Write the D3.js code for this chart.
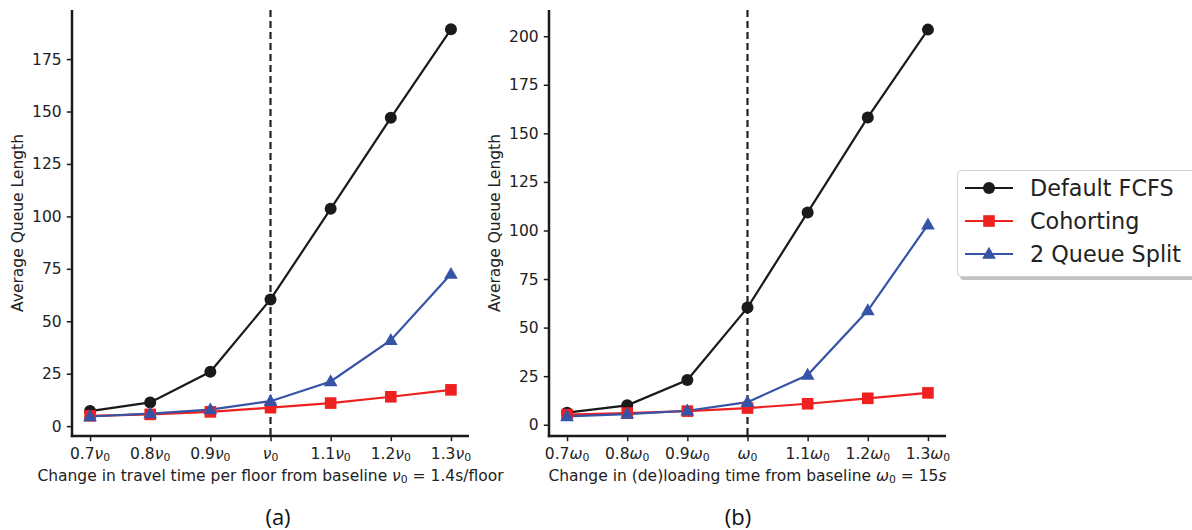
<!DOCTYPE html>
<html>
<head>
<meta charset="utf-8">
<script src="https://cdn.jsdelivr.net/npm/d3@7"></script>
<style>
  html, body { margin: 0; padding: 0; background: #fff; }
  svg { display: block; font-family: "DejaVu Sans", sans-serif; }
</style>
</head>
<body>
<svg id="chart" width="1192" height="530"></svg>
<script>
// ---------- data ----------
const multipliers = [0.7, 0.8, 0.9, 1.0, 1.1, 1.2, 1.3];
const tickPrefixes = ["0.7", "0.8", "0.9", "", "1.1", "1.2", "1.3"];
const seriesNames = ["Default FCFS", "Cohorting", "2 Queue Split"];

const travelFCFS   = [7.2, 11.3, 25.9, 60.4, 103.6, 147.0, 189.2];
const travelCohort = [4.9, 5.6, 6.8, 8.8, 11.0, 14.0, 17.3];
const travelSplit  = [4.6, 6.0, 7.9, 11.9, 21.3, 41.0, 72.5];

const loadFCFS   = [6.2, 10.0, 23.0, 60.3, 109.3, 158.2, 203.4];
const loadCohort = [5.2, 6.0, 7.0, 8.6, 10.8, 13.6, 16.4];
const loadSplit  = [4.3, 5.5, 7.2, 11.6, 25.6, 58.8, 103.0];

const travelYTicks = [0, 25, 50, 75, 100, 125, 150, 175];
const loadYTicks   = [0, 25, 50, 75, 100, 125, 150, 175, 200];

const colors = ["#1a1a1a", "#ee2020", "#3653a6"];
const markers = ["circle", "square", "triangle"];

// ---------- drawing ----------
const svg = d3.select("#chart");
const FS = 15.5;

function mathLabel(sel, prefix, sym) {
  if (prefix) sel.append("tspan").text(prefix);
  sel.append("tspan").attr("font-style", "italic").text(sym);
  sel.append("tspan").attr("font-size", "0.7em").attr("dy", "0.22em").text("0");
}

function drawMarker(g, type, x, y, color) {
  if (type === "circle") {
    g.append("circle").attr("cx", x).attr("cy", y).attr("r", 6).attr("fill", color);
  } else if (type === "square") {
    g.append("rect").attr("x", x - 5.8).attr("y", y - 5.8).attr("width", 11.6).attr("height", 11.6).attr("fill", color);
  } else {
    const s = d3.symbol().type(d3.symbolTriangle).size(82);
    g.append("path").attr("d", s()).attr("transform", `translate(${x},${y + 0.8})`).attr("fill", color);
  }
}

function panel(opts) {
  const { left, right, top, bottom, yMax, yMin, yTicks, series, sym, xlabelParts, caption, captionX } = opts;
  const x = d3.scaleLinear().domain([0.67, 1.33]).range([left, right]);
  const y = d3.scaleLinear().domain([yMin, yMax]).range([bottom, top]);
  const g = svg.append("g");

  // dashed baseline
  g.append("line")
    .attr("x1", x(1.0)).attr("x2", x(1.0)).attr("y1", top).attr("y2", bottom)
    .attr("stroke", "#222").attr("stroke-width", 2.2).attr("stroke-dasharray", "7,4");

  // series
  const line = d3.line().x((d, i) => x(multipliers[i])).y(d => y(d));
  series.forEach((vals, si) => {
    g.append("path").datum(vals).attr("d", line)
      .attr("fill", "none").attr("stroke", colors[si]).attr("stroke-width", 2.2);
  });
  series.forEach((vals, si) => {
    vals.forEach((v, i) => drawMarker(g, markers[si], x(multipliers[i]), y(v), colors[si]));
  });

  // axes
  const yAxis = d3.axisLeft(y).tickValues(yTicks).tickSize(5.2).tickPadding(5.2);
  const ya = g.append("g").attr("transform", `translate(${left},0)`).call(yAxis);
  const xAxis = d3.axisBottom(x).tickValues(multipliers).tickSize(5.2).tickPadding(5.2).tickFormat("");
  const xa = g.append("g").attr("transform", `translate(0,${bottom})`).call(xAxis);
  [ya, xa].forEach(a => {
    a.select(".domain").remove();
    a.selectAll(".tick line").attr("stroke", "#1a1a1a").attr("stroke-width", 1.5);
    a.selectAll("text").attr("font-size", FS).attr("fill", "#222").attr("font-family", "DejaVu Sans");
  });
  // spines
  g.append("line").attr("x1", left).attr("x2", left).attr("y1", top).attr("y2", bottom + 1.2)
    .attr("stroke", "#1a1a1a").attr("stroke-width", 2.5);
  g.append("line").attr("x1", left - 1.2).attr("x2", right).attr("y1", bottom).attr("y2", bottom)
    .attr("stroke", "#1a1a1a").attr("stroke-width", 2.5);

  // x tick labels with math
  multipliers.forEach((m, i) => {
    const t = g.append("text").attr("x", x(m)).attr("y", bottom + 22.5)
      .attr("text-anchor", "middle").attr("font-size", FS).attr("fill", "#222");
    mathLabel(t, tickPrefixes[i], sym);
  });

  // x label
  const xl = g.append("text").attr("x", (left + right) / 2).attr("y", bottom + 45)
    .attr("text-anchor", "middle").attr("font-size", FS).attr("fill", "#222");
  xlabelParts.forEach(p => {
    const ts = xl.append("tspan").text(p.t);
    if (p.i) ts.attr("font-style", "italic");
    if (p.sub) ts.attr("font-size", "0.7em").attr("dy", "0.22em");
    if (p.up) ts.attr("dy", "-0.154em");
  });

  // y label
  g.append("text")
    .attr("transform", `translate(${left - 54},${(top + bottom) / 2}) rotate(-90)`)
    .attr("text-anchor", "middle").attr("dominant-baseline", "central")
    .attr("font-size", FS).attr("fill", "#222").text("Average Queue Length");

  // caption
  svg.append("text").attr("x", captionX).attr("y", 525)
    .attr("text-anchor", "middle").attr("font-family", "Open Sans, sans-serif")
    .attr("font-size", 22).attr("fill", "#111").text(caption);
}

panel({
  left: 72, right: 469, top: 10, bottom: 436,
  yMin: -4.7, yMax: 198.4, yTicks: travelYTicks,
  series: [travelFCFS, travelCohort, travelSplit], sym: "ν",
  xlabelParts: [
    { t: "Change in travel time per floor from baseline " },
    { t: "ν", i: true }, { t: "0", sub: true }, { t: " = 1.4s/floor", up: true }
  ],
  caption: "(a)", captionX: 278
});

panel({
  left: 549, right: 946, top: 10, bottom: 436,
  yMin: -5.8, yMax: 213.5, yTicks: loadYTicks,
  series: [loadFCFS, loadCohort, loadSplit], sym: "ω",
  xlabelParts: [
    { t: "Change in (de)loading time from baseline " },
    { t: "ω", i: true }, { t: "0", sub: true }, { t: " = 15", up: true }, { t: "s", i: true }
  ],
  caption: "(b)", captionX: 738
});

// ---------- legend ----------
const lg = svg.append("g");
lg.append("rect").attr("x", 960).attr("y", 173).attr("width", 240).attr("height", 107)
  .attr("rx", 4).attr("fill", "#9a9a9a").attr("opacity", 0.6);
lg.append("rect").attr("x", 957.5).attr("y", 170.5).attr("width", 240).attr("height", 106)
  .attr("rx", 4).attr("fill", "#fff").attr("stroke", "#d0d0d0").attr("stroke-width", 1);
const rowY = d3.scalePoint().domain(seriesNames).range([188, 254]);
seriesNames.forEach((name, i) => {
  const yy = rowY(name);
  lg.append("line").attr("x1", 965).attr("x2", 1013).attr("y1", yy).attr("y2", yy)
    .attr("stroke", colors[i]).attr("stroke-width", 2.2);
  drawMarker(lg, markers[i], 989, yy, colors[i]);
  lg.append("text").attr("x", 1030).attr("y", yy).attr("dominant-baseline", "central")
    .attr("font-size", 22.3).attr("fill", "#222").text(name);
});
</script>
</body>
</html>
